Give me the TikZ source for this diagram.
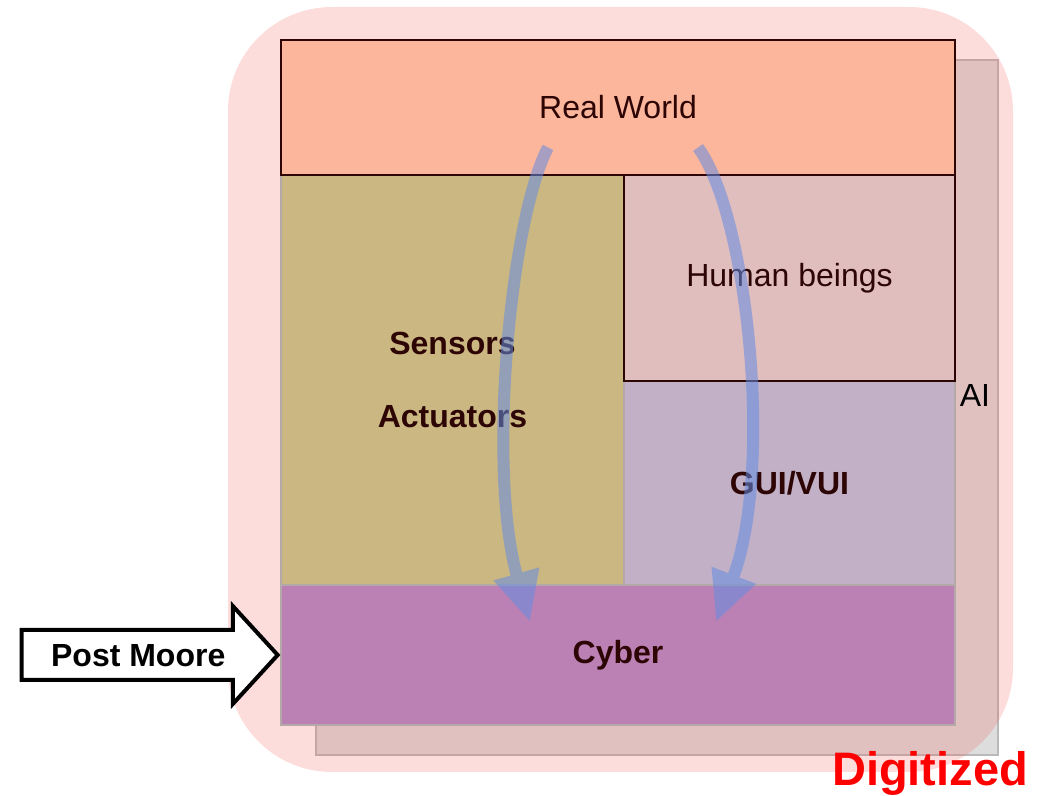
\documentclass[tikz,border=0pt]{standalone}
\usepackage{fontspec}
\setmainfont{Liberation Sans}
\usepackage{tikz}
\usetikzlibrary{arrows.meta,shapes.arrows,positioning}
\definecolor{cpsred}{RGB}{245,80,80}
\definecolor{cpsgray}{RGB}{221,221,221}
\definecolor{cpsline}{RGB}{45,5,5}
\definecolor{cpssalmon}{RGB}{252,182,156}
\definecolor{cpstan}{RGB}{203,183,130}
\definecolor{cpsrose}{RGB}{224,190,190}
\definecolor{cpslilac}{RGB}{193,176,198}
\definecolor{cpsmauve}{RGB}{187,129,180}
\definecolor{cpsblue}{RGB}{100,140,225}
\tikzstyle{layer} = [draw=cpsline!35, line width=0.6pt, text=cpsline, inner sep=0pt, font=\fontsize{16}{19}\selectfont]
\tikzstyle{flow} = [line width=6pt, draw=cpsblue, -{Triangle[width=22pt,length=25pt]}]

\begin{document}
\begin{tikzpicture}[x=0.5pt,y=-0.5pt]
\useasboundingbox (0,0) rectangle (1041,796);

% AI layer behind everything
\node[draw=gray!55, line width=0.8pt, fill=cpsgray, minimum width=341pt, minimum height=347.5pt, inner sep=0pt] (ai) at (657,407.5) {};

% Digitized domain
\node[fill=cpsred, fill opacity=0.2, rounded corners=52pt, minimum width=392.5pt, minimum height=382.5pt, inner sep=0pt] (dig) at (620.5,389.5) {};

% Layers
\node[layer, fill=cpstan, minimum width=171.5pt, minimum height=205pt, align=center, font=\bfseries\fontsize{16}{19}\selectfont] (sens) at (452.5,380) {Sensors\\[17.5pt]Actuators};
\node[layer, fill=cpslilac, minimum width=165.5pt, minimum height=102pt, font=\bfseries\fontsize{16}{19}\selectfont] (gui) at (789.5,483) {GUI/VUI};
\node[layer, fill=cpsmauve, minimum width=337pt, minimum height=70pt, font=\bfseries\fontsize{16}{19}\selectfont] (cyber) at (618,655) {Cyber};
\node[layer, draw=cpsline, line width=1pt, fill=cpsrose, minimum width=165.5pt, minimum height=103pt] (human) at (789.5,278) {Human beings};
\node[layer, draw=cpsline, line width=1pt, fill=cpssalmon, minimum width=337pt, minimum height=67.5pt] (real) at (618,107.5) {Real World};

% Labels
\node[font=\fontsize{16}{19}\selectfont] (ailabel) at (975,395) {AI};
\node[text=red, font=\bfseries\fontsize{23.5}{28}\selectfont] (diglabel) at (930,773) {Digitized};

% Post Moore arrow
\node[single arrow, draw=black, line width=2pt, fill=white, font=\bfseries\fontsize{16}{19}\selectfont, text height=12pt, text depth=0pt, inner ysep=5.5pt, inner xsep=4pt, minimum height=128pt, single arrow head extend=12pt, single arrow tip angle=95, anchor=tip] (moore) at (cyber.west) {Post Moore};

% Flows from the real world into cyber space
\begin{scope}[transparency group, opacity=0.55]
\draw[flow] ([xshift=-35pt,yshift=-20pt]real.center) .. controls (510,220) and (487,470) .. ([xshift=-44pt,yshift=16.5pt]cyber.center);
\draw[flow] ([xshift=40pt,yshift=-20pt]real.center) .. controls (748,215) and (774,470) .. ([xshift=49pt,yshift=16.5pt]cyber.center);
\end{scope}
\end{tikzpicture}
\end{document}
